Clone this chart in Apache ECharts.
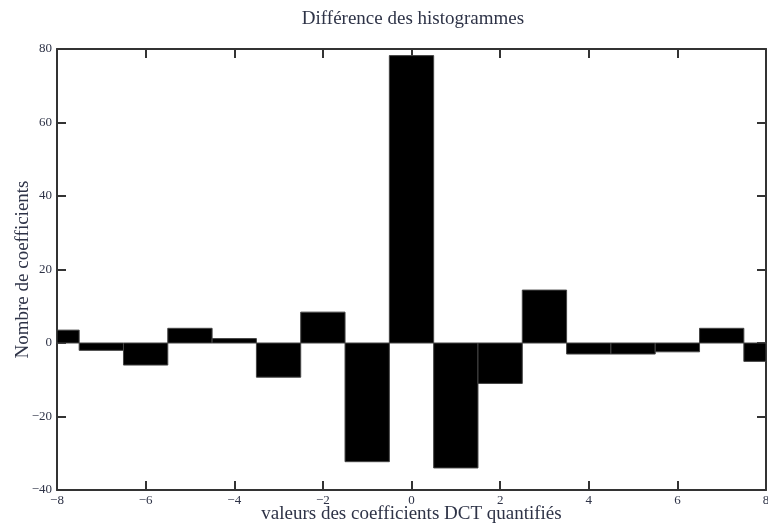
<!DOCTYPE html>
<html>
<head>
<meta charset="utf-8">
<script src="https://cdn.jsdelivr.net/npm/echarts@6/dist/echarts.min.js"></script>
<style>
	html, body { margin: 0; padding: 0; background: #fff; }
	#chart { width: 768px; height: 528px; }
</style>
</head>
<body>
<div id="chart"></div>
<script>
// DCT coefficient values (bin centres) and histogram difference
var binCenters = [-8, -7, -6, -5, -4, -3, -2, -1, 0, 1, 2, 3, 4, 5, 6, 7, 8];
var diffCounts = [3.5, -2, -6, 4, 1.2, -9.3, 8.4, -32.3, 78.2, -34, -11, 14.4, -3, -3, -2.4, 4, -5];
var xTicks = { min: -8, max: 8, interval: 2 };
var yTicks = { min: -40, max: 80, interval: 20 };

var font = 'Liberation Serif';
var textColor = '#2e3347';
var lineColor = '#333';

var barData = [];
for (var i = 0; i < binCenters.length; i++) {
	barData.push([binCenters[i], diffCounts[i]]);
}

function minus(v) {
	return String(v).replace('-', '\u2212');
}

var chart = echarts.init(document.getElementById('chart'), null, { renderer: 'canvas' });

var frameAxis = {
	axisLine: { show: true, onZero: false, lineStyle: { color: lineColor, width: 2 } },
	axisTick: { show: true, inside: true, length: 9, lineStyle: { color: lineColor, width: 2 } },
	splitLine: { show: false }
};

var option = {
	backgroundColor: '#fff',
	animation: false,
	title: {
		text: 'Différence des histogrammes',
		left: 408,
		textAlign: 'center',
		top: 5,
		textStyle: { fontFamily: font, fontSize: 19, fontWeight: 'normal', color: textColor }
	},
	grid: { left: 57, right: 2, top: 49, bottom: 38, outerBoundsMode: 'none' },
	xAxis: [
		Object.assign({
			type: 'value',
			position: 'bottom',
			min: xTicks.min, max: xTicks.max, interval: xTicks.interval,
			name: 'valeurs des coefficients DCT quantifiés',
			nameLocation: 'middle',
			nameGap: 15,
			nameMoveOverlap: false,
			nameTextStyle: { fontFamily: font, fontSize: 19, color: textColor },
			axisLabel: { fontFamily: font, fontSize: 13, color: textColor, margin: 4, formatter: minus }
		}, frameAxis),
		Object.assign({
			type: 'value',
			position: 'top',
			min: xTicks.min, max: xTicks.max, interval: xTicks.interval,
			axisLabel: { show: false }
		}, frameAxis)
	],
	yAxis: [
		Object.assign({
			type: 'value',
			position: 'left',
			min: yTicks.min, max: yTicks.max, interval: yTicks.interval,
			name: 'Nombre de coefficients',
			nameLocation: 'middle',
			nameGap: 24,
			nameMoveOverlap: false,
			nameTextStyle: { fontFamily: font, fontSize: 19, color: textColor },
			axisLabel: { fontFamily: font, fontSize: 13, color: textColor, margin: 5, formatter: minus }
		}, frameAxis),
		Object.assign({
			type: 'value',
			position: 'right',
			min: yTicks.min, max: yTicks.max, interval: yTicks.interval,
			axisLabel: { show: false }
		}, frameAxis)
	],
	series: [{
		type: 'custom',
		xAxisIndex: 0,
		yAxisIndex: 0,
		data: barData,
		renderItem: function (params, api) {
			var x = api.value(0);
			var y = api.value(1);
			var p0 = api.coord([x - 0.5, y]);
			var p1 = api.coord([x + 0.5, 0]);
			var rect = echarts.graphic.clipRectByRect({
				x: p0[0],
				y: Math.min(p0[1], p1[1]),
				width: p1[0] - p0[0],
				height: Math.abs(p1[1] - p0[1])
			}, {
				x: params.coordSys.x,
				y: params.coordSys.y,
				width: params.coordSys.width,
				height: params.coordSys.height
			});
			return rect && {
				type: 'rect',
				shape: rect,
				style: { fill: '#000', stroke: '#444', lineWidth: 1 }
			};
		}
	}]
};

chart.setOption(option);
</script>
</body>
</html>
